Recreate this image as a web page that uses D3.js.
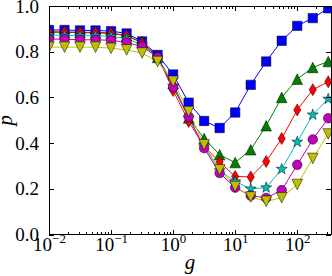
<!DOCTYPE html>
<html>
<head>
<meta charset="utf-8">
<script src="https://cdn.jsdelivr.net/npm/d3@7"></script>
<style>
  body { margin: 0; background: #fff; }
  svg { display: block; }
  text { font-family: "Liberation Serif", "DejaVu Serif", serif; fill: #000; }
</style>
</head>
<body>
<div id="chart"></div>
<script>

// g values of the points (quarter decades)
const gValues = [0.01, 0.0178, 0.0316, 0.0562, 0.1, 0.178, 0.316, 0.562, 1, 1.78, 3.16,
    5.62, 10, 17.8, 31.6, 56.2, 100, 178, 316];

// p values
const pBlue    = [0.895, 0.895, 0.893, 0.893, 0.890, 0.880, 0.845, 0.786, 0.700, 0.577, 0.497, 0.466, 0.534, 0.655, 0.757, 0.848, 0.913, 0.947, 0.990];
const pGreen   = [0.885, 0.885, 0.883, 0.882, 0.880, 0.870, 0.840, 0.775, 0.660, 0.510, 0.420, 0.349, 0.315, 0.371, 0.476, 0.600, 0.680, 0.731, 0.757];
const pRed     = [0.887, 0.887, 0.885, 0.885, 0.882, 0.870, 0.840, 0.780, 0.630, 0.495, 0.385, 0.317, 0.254, 0.252, 0.320, 0.420, 0.545, 0.634, 0.668];
const pCyan    = [0.873, 0.872, 0.870, 0.870, 0.868, 0.857, 0.830, 0.775, 0.650, 0.510, 0.385, 0.280, 0.232, 0.200, 0.205, 0.286, 0.405, 0.524, 0.593];
const pMagenta = [0.855, 0.855, 0.852, 0.852, 0.850, 0.840, 0.823, 0.775, 0.645, 0.516, 0.378, 0.269, 0.205, 0.170, 0.160, 0.194, 0.305, 0.416, 0.509];
const pYellow  = [0.820, 0.820, 0.820, 0.820, 0.815, 0.808, 0.794, 0.757, 0.670, 0.538, 0.393, 0.283, 0.210, 0.164, 0.145, 0.161, 0.219, 0.333, 0.440];

const xMajor = [0.01, 0.1, 1, 10, 100];
const xExponents = ["\u22122", "\u22121", "0", "1", "2"];
const yTicks = [0, 0.2, 0.4, 0.6, 0.8, 1.0];

const series = [
    { values: pBlue,    color: "#0000ff", marker: "square" },
    { values: pGreen,   color: "#008000", marker: "triUp" },
    { values: pRed,     color: "#ff0000", marker: "diamond" },
    { values: pCyan,    color: "#00bfbf", marker: "star" },
    { values: pMagenta, color: "#bf00bf", marker: "circle" },
    { values: pYellow,  color: "#bfbf00", marker: "triDown" }
];

const width = 332, height = 276;
const mLeft = 49, mRight = 331, mTop = 6, mBottom = 234.5;

const svg = d3.select("#chart").append("svg")
    .attr("width", width)
    .attr("height", height);

const x = d3.scaleLog().domain([0.01, 350]).range([mLeft, mRight]);
const y = d3.scaleLinear().domain([0, 1]).range([mBottom, mTop]);

// minor ticks for the log axis
const xMinor = [];
for (let e = -2; e <= 2; e++) {
    for (let m = 2; m <= 9; m++) {
        const v = m * Math.pow(10, e);
        if (v < 350) xMinor.push(v);
    }
}

// marker shapes
function markerPath(type) {
    if (type === "square") { const s = 4.7; return `M${-s},${-s}H${s}V${s}H${-s}Z`; }
    if (type === "triUp") { const r = 5.3; return `M0,${-r}L${-r},${r}L${r},${r}Z`; }
    if (type === "triDown") { const r = 5.3; return `M0,${r}L${-r},${-r}L${r},${-r}Z`; }
    if (type === "diamond") { const r = 6; return `M0,${-r}L${r * 0.6},0L0,${r}L${-r * 0.6},0Z`; }
    if (type === "circle") { const r = 4.8; return `M${r},0A${r},${r} 0 1,1 ${-r},0A${r},${r} 0 1,1 ${r},0Z`; }
    if (type === "star") {
        const ro = 5.8, ri = 2.3;
        let p = "";
        for (let i = 0; i < 10; i++) {
            const a = -Math.PI / 2 + i * Math.PI / 5;
            const r = i % 2 === 0 ? ro : ri;
            p += (i === 0 ? "M" : "L") + (r * Math.cos(a)).toFixed(2) + "," + (r * Math.sin(a)).toFixed(2);
        }
        return p + "Z";
    }
}

svg.append("clipPath").attr("id", "plotclip")
    .append("rect")
    .attr("x", mLeft).attr("y", mTop)
    .attr("width", mRight - mLeft).attr("height", mBottom - mTop);

const plot = svg.append("g").attr("clip-path", "url(#plotclip)");

const line = d3.line()
    .x((d, i) => x(gValues[i]))
    .y(d => y(d));

series.forEach(function (s) {
    plot.append("path")
        .datum(s.values)
        .attr("d", line)
        .attr("fill", "none")
        .attr("stroke", s.color)
        .attr("stroke-width", 1);
});

series.forEach(function (s) {
    plot.selectAll(null)
        .data(s.values)
        .enter()
        .append("path")
        .attr("d", markerPath(s.marker))
        .attr("transform", (d, i) => `translate(${x(gValues[i])},${y(d)})`)
        .attr("fill", s.color)
        .attr("stroke", "#000")
        .attr("stroke-width", 0.5);
});

// AXES
const xBottom = svg.append("g")
    .attr("transform", `translate(0,${mBottom})`)
    .call(d3.axisBottom(x).tickValues(xMajor).tickSizeInner(-5).tickSizeOuter(0).tickPadding(9)
        .tickFormat(""));
svg.append("g")
    .attr("transform", `translate(0,${mBottom})`)
    .call(d3.axisBottom(x).tickValues(xMinor).tickSizeInner(-2.5).tickSizeOuter(0).tickFormat(""));
svg.append("g")
    .attr("transform", `translate(0,${mTop})`)
    .call(d3.axisTop(x).tickValues(xMajor).tickSizeInner(-5).tickSizeOuter(0).tickFormat(""));
svg.append("g")
    .attr("transform", `translate(0,${mTop})`)
    .call(d3.axisTop(x).tickValues(xMinor).tickSizeInner(-2.5).tickSizeOuter(0).tickFormat(""));

const yLeft = svg.append("g")
    .attr("transform", `translate(${mLeft},0)`)
    .call(d3.axisLeft(y).tickValues(yTicks).tickSizeInner(-5).tickSizeOuter(0).tickPadding(10)
        .tickFormat(d3.format(".1f")));
svg.append("g")
    .attr("transform", `translate(${mRight},0)`)
    .call(d3.axisRight(y).tickValues(yTicks).tickSizeInner(-5).tickSizeOuter(0).tickFormat(""));

svg.selectAll(".domain").remove();
svg.selectAll(".tick line").attr("stroke", "#000").attr("stroke-width", 1)
    .attr("shape-rendering", "crispEdges");

yLeft.selectAll("text")
    .style("font-family", "'Liberation Serif', serif")
    .style("font-size", "19px");

// x tick labels with superscript exponents
xBottom.selectAll(".tick").each(function (d, i) {
    const t = d3.select(this).append("text")
        .attr("y", 16.5)
        .attr("text-anchor", "middle")
        .style("font-family", "'Liberation Serif', serif")
        .style("font-size", "19px")
        .attr("fill", "#000");
    t.append("tspan").text("10");
    t.append("tspan").attr("dy", -8).style("font-size", "13px").text(xExponents[i]);
});

// frame
svg.append("rect")
    .attr("x", mLeft).attr("y", mTop)
    .attr("width", mRight - mLeft).attr("height", mBottom - mTop)
    .attr("fill", "none")
    .attr("stroke", "#000")
    .attr("stroke-width", 1)
    .attr("shape-rendering", "crispEdges");

// axis titles
svg.append("text")
    .attr("x", (mLeft + mRight) / 2)
    .attr("y", 269)
    .attr("text-anchor", "middle")
    .style("font-size", "21px")
    .style("font-style", "italic")
    .text("g");

svg.append("text")
    .attr("transform", `translate(12,${(mTop + mBottom) / 2}) rotate(-90)`)
    .attr("text-anchor", "middle")
    .style("font-size", "21px")
    .style("font-style", "italic")
    .text("p");

</script>
</body>
</html>
